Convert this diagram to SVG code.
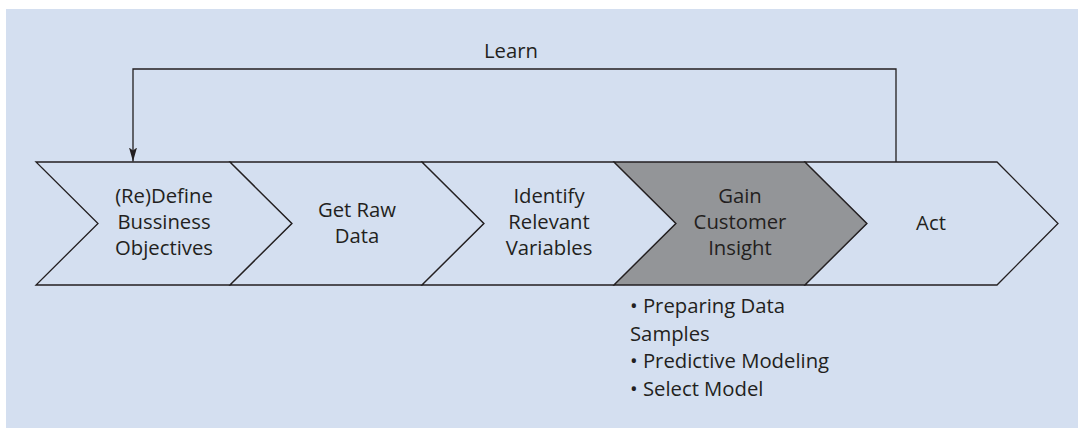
<svg xmlns="http://www.w3.org/2000/svg" width="1078" height="428" viewBox="0 0 1078 428">
<defs>
<style>
.chev{fill:#d4dff0;stroke:#231f20;stroke-width:1.3;stroke-linejoin:miter}
.dark{fill:#939598}
.t{font-family:"Open Sans","Noto Sans",sans-serif;font-size:20.3px;fill:#231f20;text-anchor:middle}
.b{font-family:"Open Sans","Noto Sans",sans-serif;font-size:20.3px;fill:#231f20}
.con{fill:none;stroke:#231f20;stroke-width:1.3}
</style>
<marker id="arr" viewBox="0 0 14 8" refX="14" refY="4" markerWidth="14" markerHeight="8" markerUnits="userSpaceOnUse" orient="auto">
<path d="M0,0 L14,4 L0,8 L3,4 Z" fill="#231f20"/>
</marker>
</defs>
<rect x="6" y="9" width="1072" height="419" fill="#d4dff0"/>
<g id="n1">
<polygon class="chev" points="36,162 230,162 292,223.5 230,285 36,285 98,223.5"/>
<text class="t" x="164" y="203">(Re)Define</text>
<text class="t" x="164" y="229">Bussiness</text>
<text class="t" x="164" y="255">Objectives</text>
</g>
<g id="n2">
<polygon class="chev" points="230,162 422,162 484,223.5 422,285 230,285 292,223.5"/>
<text class="t" x="357" y="217">Get Raw</text>
<text class="t" x="357" y="243">Data</text>
</g>
<g id="n3">
<polygon class="chev" points="422,162 614,162 676,223.5 614,285 422,285 484,223.5"/>
<text class="t" x="549" y="203">Identify</text>
<text class="t" x="549" y="229">Relevant</text>
<text class="t" x="549" y="255">Variables</text>
</g>
<g id="n4">
<polygon class="chev dark" points="614,162 805,162 867,223.5 805,285 614,285 676,223.5"/>
<text class="t" x="740" y="203">Gain</text>
<text class="t" x="740" y="229">Customer</text>
<text class="t" x="740" y="255">Insight</text>
</g>
<g id="n5">
<polygon class="chev" points="805,162 997,162 1058,223.5 997,285 805,285 867,223.5"/>
<text class="t" x="931" y="230">Act</text>
</g>
<g id="notes">
<text class="b" x="630" y="313">• Preparing Data</text>
<text class="b" x="630" y="341">Samples</text>
<text class="b" x="630" y="368">• Predictive Modeling</text>
<text class="b" x="630" y="396">• Select Model</text>
</g>
<g id="connectors">
<polyline class="con" points="896,162 896,69 133,69 133,161.5" marker-end="url(#arr)"/>
<text class="t" x="511" y="58">Learn</text>
</g>
</svg>
